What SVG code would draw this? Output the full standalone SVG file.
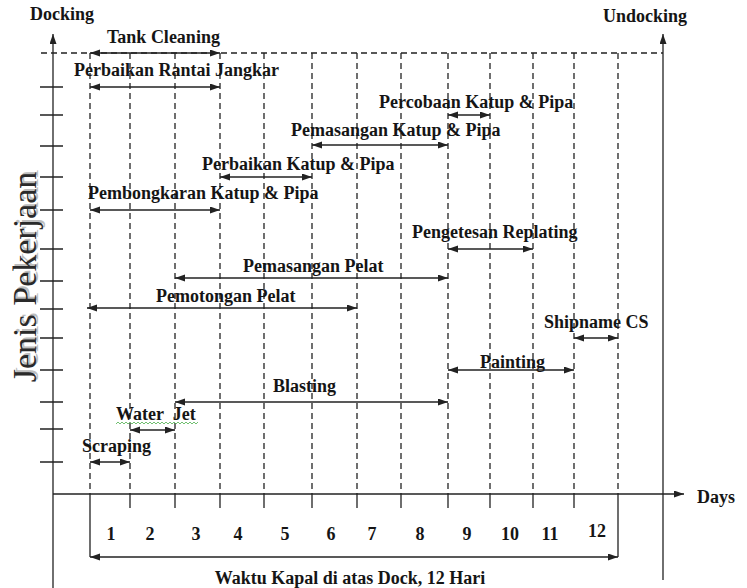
<svg xmlns="http://www.w3.org/2000/svg" width="747" height="588" viewBox="0 0 747 588">
<style>
text{font-family:"Liberation Serif","Times New Roman",serif;font-weight:bold;font-size:18px;fill:#151515}
.ax{stroke:#222;stroke-width:1.3;fill:none}
.dash{stroke:#222;stroke-width:1.3;stroke-dasharray:6 4;fill:none}
.arr{stroke:#222;stroke-width:1.3;fill:none;marker-start:url(#ah);marker-end:url(#ah)}
.one{stroke:#222;stroke-width:1.3;fill:none;marker-end:url(#ah)}
.title{font-weight:normal;font-size:34px}
</style>
<defs>
<marker id="ah" markerUnits="userSpaceOnUse" markerWidth="11" markerHeight="8" refX="10" refY="3.5" orient="auto-start-reverse">
<path d="M0,0 L10,3.5 L0,7 z" fill="#222"/>
</marker>
</defs>
<rect width="747" height="588" fill="#fff"/>

<g id="grid">
<path class="dash" d="M41,53 H663"/>
<path class="dash" d="M90,53 V494 M130,53 V494 M175,53 V494 M220,53 V494 M264,53 V494 M312,53 V494 M357,53 V494 M401,53 V494 M448,53 V494 M490,53 V494 M533,53 V494 M574,53 V494 M618,53 V494"/>
</g>

<g id="axes">
<path class="one" d="M53,588 V34"/>
<path class="one" d="M663,580 V34"/>
<path class="one" d="M53,494 H684"/>
<path class="ax" d="M40,87 H63 M40,115 H63 M40,146 H63 M40,177 H63 M40,210 H63 M40,249 H63 M40,281 H63 M40,309 H63 M40,338 H63 M40,370 H63 M40,402 H63 M40,429 H63 M40,462 H63"/>
<path class="ax" d="M130,494 V508 M175,494 V508 M220,494 V508 M264,494 V508 M312,494 V508 M357,494 V508 M401,494 V508 M448,494 V508 M490,494 V508 M533,494 V508 M574,494 V508 M90,494 V557 M618,494 V557"/>
</g>

<g id="labels-axes">
<text id="docking" x="30" y="20">Docking</text>
<text id="undocking" x="603" y="22">Undocking</text>
<text id="days" x="697" y="503">Days</text>
<g id="ylabel" transform="translate(36,277) rotate(-90)">
<text class="title" x="2" y="2" text-anchor="middle" style="fill:#bdbdbd">Jenis Pekerjaan</text>
<text class="title" x="0" y="0" text-anchor="middle" style="fill:#2a2a2a">Jenis Pekerjaan</text>
</g>
<g id="day-numbers">
<text x="111" y="540" text-anchor="middle">1</text>
<text x="150" y="540" text-anchor="middle">2</text>
<text x="196" y="540" text-anchor="middle">3</text>
<text x="238" y="540" text-anchor="middle">4</text>
<text x="285" y="540" text-anchor="middle">5</text>
<text x="331" y="540" text-anchor="middle">6</text>
<text x="372" y="540" text-anchor="middle">7</text>
<text x="420" y="540" text-anchor="middle">8</text>
<text x="467" y="540" text-anchor="middle">9</text>
<text x="510" y="540" text-anchor="middle">10</text>
<text x="550" y="540" text-anchor="middle">11</text>
<text x="597" y="537" text-anchor="middle">12</text>
</g>
<text id="waktu" x="350" y="584" text-anchor="middle">Waktu Kapal di atas Dock, 12 Hari</text>
</g>

<g id="task-tank-cleaning"><text x="107" y="43">Tank Cleaning</text></g>
<g id="task-perbaikan-rantai"><text x="74" y="76">Perbaikan Rantai Jangkar</text></g>
<g id="task-percobaan-katup"><text x="379" y="108">Percobaan Katup &amp; Pipa</text></g>
<g id="task-pemasangan-katup"><text x="291" y="136">Pemasangan Katup &amp; Pipa</text></g>
<g id="task-perbaikan-katup"><text x="202" y="170">Perbaikan Katup &amp; Pipa</text></g>
<g id="task-pembongkaran-katup"><text x="88" y="199">Pembongkaran Katup &amp; Pipa</text></g>
<g id="task-pengetesan-replating"><text x="412" y="238">Pengetesan Replating</text></g>
<g id="task-pemasangan-pelat"><text x="243" y="272">Pemasangan Pelat</text></g>
<g id="task-pemotongan-pelat"><text x="156" y="302">Pemotongan Pelat</text></g>
<g id="task-shipname"><text x="544" y="328">Shipname CS</text></g>
<g id="task-painting"><text x="480" y="368">Painting</text></g>
<g id="task-blasting"><text x="273" y="392">Blasting</text></g>
<g id="task-water-jet"><text x="116" y="420" xml:space="preserve">Water  Jet</text>
<polyline points="116,424 118,422 120,424 122,422 124,424 126,422 128,424 130,422 132,424 134,422 136,424 138,422 140,424 142,422 144,424 146,422 148,424 150,422 152,424 154,422 156,424 158,422 160,424 162,422 164,424 166,422 168,424 170,422 172,424 174,422 176,424 178,422 180,424 182,422 184,424 186,422 188,424 190,422 192,424 194,422 196,424 198,422" fill="none" stroke="#4cb04c" stroke-width="0.8"/></g>
<g id="task-scraping"><text x="82" y="452">Scraping</text></g>

<g id="connectors">
<path class="arr" d="M90,53 H220"/>
<path class="arr" d="M90,87 H220"/>
<path class="arr" d="M448,115 H490"/>
<path class="arr" d="M312,145 H448"/>
<path class="arr" d="M220,177 H312"/>
<path class="arr" d="M90,210 H220"/>
<path class="arr" d="M448,249 H533"/>
<path class="arr" d="M175,278 H448"/>
<path class="arr" d="M87,308 H357"/>
<path class="arr" d="M574,338 H618"/>
<path class="arr" d="M448,370 H574"/>
<path class="arr" d="M175,402 H448"/>
<path class="arr" d="M130,430 H175"/>
<path class="arr" d="M90,462 H130"/>
<path class="arr" d="M90,557 H618"/>
</g>
</svg>
